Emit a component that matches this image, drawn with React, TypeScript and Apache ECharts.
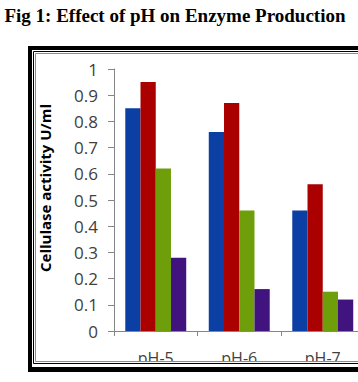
import React, { useEffect, useRef } from "react";
import * as echarts from "echarts";

const categories = ["pH-5", "pH-6", "pH-7"];
const seriesBlue = [0.85, 0.76, 0.46];
const seriesRed = [0.95, 0.87, 0.56];
const seriesGreen = [0.62, 0.46, 0.15];
const seriesPurple = [0.28, 0.16, 0.12];
const seriesColors = ["#0b3fa3", "#aa0000", "#6e9f0b", "#41137e"];
const titleText = "Fig 1: Effect of pH on Enzyme Production";
const yAxisTitle = "Cellulase activity U/ml";

export default function App() {
  const ref = useRef<HTMLDivElement>(null);
  useEffect(() => {
    if (!ref.current) return;
    const chart = echarts.init(ref.current, null, { renderer: "svg" });
    const data = [seriesBlue, seriesRed, seriesGreen, seriesPurple];
    chart.setOption({
      animation: false,
      backgroundColor: "#ffffff",
      grid: { left: 114, top: 69, width: 250.5, height: 262, containLabel: false },
      xAxis: {
        type: "category",
        data: categories,
        axisLine: { lineStyle: { color: "#868686", width: 1 } },
        axisTick: { show: true, length: 5, lineStyle: { color: "#868686" } },
        axisLabel: { color: "#404040", fontSize: 16, fontFamily: "Open Sans", margin: 19 },
      },
      yAxis: {
        type: "value",
        min: 0,
        max: 1,
        interval: 0.1,
        splitLine: { show: false },
        axisLine: { show: true, lineStyle: { color: "#868686", width: 1 } },
        axisTick: { show: true, length: 6, lineStyle: { color: "#868686" } },
        axisLabel: {
          color: "#404040",
          fontSize: 17,
          fontFamily: "Open Sans",
          margin: 16,
          formatter: (v: number) => String(Math.round(v * 10) / 10),
        },
      },
      series: data.map((d, i) => ({
        type: "bar",
        data: d,
        barGap: "0%",
        barCategoryGap: "27%",
        itemStyle: { color: seriesColors[i] },
      })),
      graphic: [
        {
          type: "text",
          z: 100,
          style: {
            x: 175,
            y: 15,
            text: titleText,
            align: "center",
            verticalAlign: "middle",
            font: "bold 19px 'Liberation Serif'",
            fill: "#000000",
          },
        },
        {
          type: "text",
          z: 100,
          x: 45,
          y: 188,
          rotation: Math.PI / 2,
          style: {
            text: yAxisTitle,
            align: "center",
            verticalAlign: "middle",
            font: "bold 15px 'Open Sans'",
            fill: "#000000",
          },
        },
        {
          type: "rect",
          z: 100,
          shape: { x: 0, y: 362, width: 420, height: 20 },
          style: { fill: "#ffffff" },
        },
        {
          type: "rect",
          z: 101,
          shape: { x: 35.5, y: 53.5, width: 400, height: 308 },
          style: { fill: "none", stroke: "#8c8c8c", lineWidth: 1 },
        },
        {
          type: "rect",
          z: 101,
          shape: { x: 33.5, y: 51.5, width: 400, height: 312 },
          style: { fill: "none", stroke: "#000000", lineWidth: 1 },
        },
        {
          type: "rect",
          z: 101,
          shape: { x: 30, y: 48, width: 400, height: 321 },
          style: { fill: "none", stroke: "#000000", lineWidth: 4 },
        },
        {
          type: "rect",
          z: 101,
          shape: { x: 28, y: 369, width: 400, height: 3 },
          style: { fill: "#000000" },
        },
      ],
    });
    return () => chart.dispose();
  }, []);
  return (
    <div
      style={{
        position: "absolute",
        left: 0,
        top: 0,
        width: 358,
        height: 382,
        overflow: "hidden",
      }}
    >
      <div ref={ref} style={{ width: 440, height: 382 }} />
    </div>
  );
}
